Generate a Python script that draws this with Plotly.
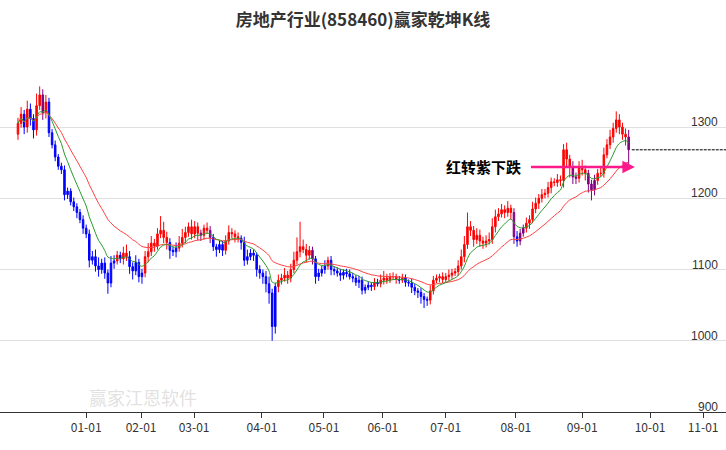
import plotly.graph_objects as go
import pandas as pd

closes = [1305,1318,1300,1325,1312,1296,1330,1345,1320,1335,
1292,1275,1258,1245,1240,1205,1210,1195,1188,1180,
1170,1158,1150,1113,1118,1105,1100,1109,1095,1081,
1109,1112,1120,1115,1123,1118,1104,1098,1110,1090,
1095,1118,1125,1137,1133,1150,1155,1145,1138,1127,
1125,1130,1137,1145,1152,1160,1150,1160,1151,1148,
1158,1155,1145,1132,1128,1135,1127,1140,1152,1150,
1146,1144,1138,1113,1118,1123,1120,1100,1095,1090,
1080,1067,1020,1076,1085,1088,1092,1088,1100,1113,
1125,1132,1128,1120,1127,1115,1090,1095,1100,1105,
1113,1100,1098,1095,1092,1096,1094,1090,1088,1082,
1085,1071,1075,1078,1076,1082,1080,1085,1088,1085,
1090,1090,1086,1085,1088,1082,1081,1075,1070,1068,
1062,1058,1057,1070,1085,1088,1090,1086,1090,1092,
1095,1097,1105,1118,1135,1160,1155,1142,1148,1140,
1137,1140,1142,1160,1174,1178,1184,1180,1186,1180,
1146,1140,1151,1158,1165,1170,1185,1193,1200,1205,
1207,1215,1223,1222,1226,1225,1268,1255,1244,1230,
1228,1244,1240,1235,1220,1212,1225,1235,1235,1261,
1275,1286,1298,1310,1300,1290,1286,1268]
first_open = 1290
wick_up = [8,10,6,12,8,6,17,12,8,10,
6,5,6,4,5,6,5,4,6,5,
5,6,5,6,8,10,12,6,8,5,
10,8,6,5,9,12,8,6,10,5,
6,8,12,10,6,8,20,12,8,6,
5,8,10,12,8,6,10,8,6,5,
5,8,6,5,4,6,5,8,10,6,
5,6,4,8,10,6,5,4,6,5,
8,10,6,5,8,6,10,6,8,12,
20,35,10,8,6,5,4,6,5,8,
5,6,4,5,6,4,5,6,5,4,
6,5,4,5,4,6,5,8,10,6,
5,6,4,5,6,5,4,6,5,4,
6,5,4,8,6,5,4,6,5,8,
6,5,8,10,12,20,8,6,10,8,
6,8,10,12,10,8,8,6,10,5,
6,8,6,5,8,6,10,8,6,8,
6,8,6,5,8,6,8,10,6,8,
6,8,10,6,5,6,8,6,8,10,
8,10,8,12,8,6,8,10]
wick_dn = [8,6,10,8,10,12,8,6,10,8,
6,5,6,5,6,8,6,5,6,8,
5,8,6,10,6,8,10,6,8,15,
6,8,5,6,8,6,10,12,6,8,
10,6,8,6,8,5,6,8,10,12,
6,8,5,6,8,6,8,6,10,8,
6,5,8,6,10,5,8,6,5,6,
8,6,10,8,6,5,8,10,8,10,
12,15,20,10,8,6,5,8,6,5,
6,8,5,10,6,8,10,6,5,6,
5,8,6,5,8,6,5,4,6,5,
8,6,5,4,6,5,4,5,6,5,
4,5,6,5,4,6,5,8,6,8,
10,12,8,6,5,4,6,5,4,6,
5,4,6,5,8,6,8,10,6,8,
8,6,5,6,8,6,5,8,6,10,
10,8,6,5,6,8,5,6,8,6,
5,6,8,5,6,8,10,12,15,10,
8,6,8,10,12,15,8,6,5,6,
5,6,8,6,10,8,12,28]

tick_idx = [22,39.7,56.8,78.7,98.7,117.7,138,160.6,182,203.9,221]
tick_txt = ["01-01","02-01","03-01","04-01","05-01","06-01","07-01","08-01","09-01","10-01","11-01"]
y_ticks = [1300,1200,1100,1000,900]
last_ref = 1268

opens = [first_open] + closes[:-1]
highs = [max(o, c) + w for o, c, w in zip(opens, closes, wick_up)]
lows = [min(o, c) - w for o, c, w in zip(opens, closes, wick_dn)]
idx = list(range(len(closes)))
s = pd.Series(closes, dtype=float)
ma_s = s.ewm(span=9, adjust=True).mean()
ma_l = s.ewm(span=26, adjust=True).mean()

cols = []
for c, a, b in zip(closes, ma_s, ma_l):
    if c >= a:
        cols.append("red")
    elif c < b:
        cols.append("blue")
    else:
        cols.append("purple")
cols[-1] = "purple"

fig = go.Figure()
for name, col in [("red", "#ff0000"), ("blue", "#0000ff"), ("purple", "#800080")]:
    sel = [i for i in idx if cols[i] == name]
    fig.add_trace(go.Candlestick(
        x=sel, open=[opens[i] for i in sel], high=[highs[i] for i in sel],
        low=[lows[i] for i in sel], close=[closes[i] for i in sel],
        increasing=dict(line=dict(color=col, width=1), fillcolor=col),
        decreasing=dict(line=dict(color=col, width=1), fillcolor=col),
        whiskerwidth=0, showlegend=False, hoverinfo="skip"))
fig.add_trace(go.Scatter(x=idx, y=ma_l, mode="lines", line=dict(color="#ff4040", width=1, shape="spline"), showlegend=False))
fig.add_trace(go.Scatter(x=idx, y=ma_s, mode="lines", line=dict(color="#2a9a2a", width=1, shape="spline"), showlegend=False))
fig.add_trace(go.Scatter(x=[idx[-1] + 1, 232], y=[last_ref, last_ref], mode="lines",
                         line=dict(color="black", width=1, dash="3px,1px"), showlegend=False))

for v in y_ticks:
    fig.add_annotation(x=0.992, xref="paper", y=v, yref="y", text=str(v), showarrow=False,
                       xanchor="right", yanchor="bottom", yshift=-4,
                       font=dict(size=12, color="#333", family="Liberation Sans"))

fig.add_annotation(x=199, y=1244, ax=165, ay=1244, axref="x", ayref="y", xref="x", yref="y",
                   showarrow=True, arrowhead=2, arrowsize=1, arrowwidth=2.5, arrowcolor="#ff1a8c", text="")
fig.add_annotation(x=163, y=1244, xref="x", yref="y", text="<b>红转紫下跌</b>", showarrow=False,
                   xanchor="right", font=dict(size=15, color="black"))
fig.add_annotation(x=0.12, y=0.0, xref="paper", yref="paper", text="赢家江恩软件", showarrow=False,
                   xanchor="left", yanchor="bottom", font=dict(size=18, color="rgba(150,150,150,0.3)"))

fig.update_layout(
    width=726, height=450, margin=dict(l=0, r=0, t=75, b=38),
    plot_bgcolor="white", paper_bgcolor="white",
    title=dict(text="<b>房地产行业(858460)赢家乾坤K线</b>", x=0.5, y=0.968, xanchor="center",
               font=dict(size=17, color="#333", family="Noto Sans CJK SC")),
    font=dict(family="Noto Sans CJK SC"),
    xaxis=dict(range=[-5.8, 228.4], tickvals=tick_idx, ticktext=tick_txt, showgrid=False,
               showline=True, linecolor="#333", ticks="outside", ticklen=5, tickcolor="#333",
               rangeslider=dict(visible=False), zeroline=False, tickfont=dict(size=12, color="#333")),
    yaxis=dict(range=[900, 1373], tickvals=[1300, 1200, 1100, 1000], showticklabels=False,
               gridcolor="#e0e0e0", zeroline=False),
)
fig.write_html("out.html", config={"displayModeBar": False},
               post_script="document.body.style.margin='0';")
